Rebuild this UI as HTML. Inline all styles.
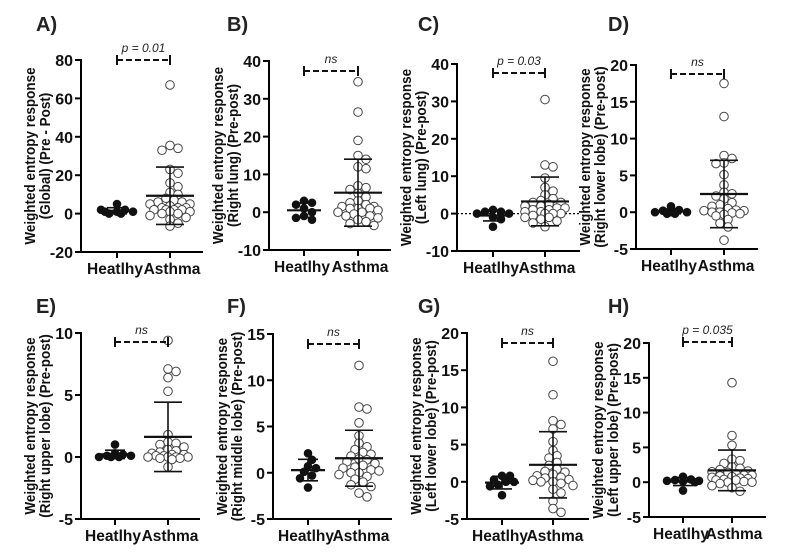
<!DOCTYPE html>
<html><head><meta charset="utf-8"><style>
html,body{margin:0;padding:0;background:#fff;}
svg{display:block;font-family:"Liberation Sans",Arial,sans-serif;}
</style></head><body>
<svg id="fig" width="808" height="558" viewBox="0 0 808 558"></svg>
<script>
const categories = ["Heatlhy","Asthma"];
const panelLetters = ["A)","B)","C)","D)","E)","F)","G)","H)"];
const yTitles1 = ["Weighted entropy response","Weighted entropy response","Weighted entropy response","Weighted entropy response","Weighted entropy response","Weighted entropy response","Weighted entropy response","Weighted entropy response"];
const yTitles2 = ["(Global)  (Pre - Post)","(Right lung)  (Pre-post)","(Left lung)  (Pre-post)","(Right lower lobe) (Pre-post)","(Right upper lobe) (Pre-post)","(Right middle lobe) (Pre-post)","(Left lower lobe) (Pre-post)","(Left upper lobe) (Pre-post)"];
const sigLabels = ["p = 0.01","ns","p = 0.03","ns","ns","ns","ns","p = 0.035"];
const yMin = [-20,-10,-10,-5,-5,-5,-5,-5];
const yMax = [80,40,40,20,10,15,20,20];
const yStep = [20,10,10,5,5,5,5,5];
const healthyA=[5,1,2,0,1,2,0,1];
const asthmaA=[67,35.5,34,33,23,21,16,14,11,10,8,7,6,6,5,5,4,3,3,3,2,2,2,2,1,1,0,0,-1,-2,-3,-5,-6.5];
const healthyB=[3,2.5,2,1,0,-1,-1.5,-2];
const asthmaB=[34.5,26.5,19,15,14,12,11.5,7,6.5,6,5,4,3,2.5,2,1.5,1.5,1,1,1,0.5,0,0,-0.5,-1,-1,-1.5,-2,-2.5,-3,-3.5];
const healthyC=[1,0.5,0.5,0,0,-1,-1.5,-3.5];
const asthmaC=[30.5,13,12.5,9.5,7,6,5,4,3.5,3,3,2.5,2,2,1.5,1.5,1,1,0.5,0.5,0,0,0,-0.5,-1,-1,-1.5,-2,-2.5,-3.5];
const healthyD=[0.8,0.3,0.2,0,0,0,-0.2,-0.2];
const asthmaD=[17.5,13,7.7,7.3,6.7,6.6,5.1,3.7,2.7,2.5,2.2,1.8,1.3,1.0,0.8,0.5,0.3,0.2,0.2,0,0,-0.1,-0.2,-0.3,-0.5,-1,-1.5,-2,-3.8];
const healthyE=[1,0.3,0.2,0.1,0.1,0,0,0];
const asthmaE=[9.4,7.1,6.9,6.4,5.3,1.8,1.2,1.1,1,0.8,0.6,0.5,0.4,0.3,0.2,0.2,0.1,0.1,0,0,0,0,-0.1,-0.1,-0.2,-0.8];
const healthyF=[2.1,1.4,0.7,0.5,0.1,-0.3,-0.6,-1.6];
const asthmaF=[11.6,7.1,6.9,5.4,4.0,3.2,2.8,2.5,2.2,2.0,1.8,1.5,1.4,1.2,1.0,0.8,0.6,0.5,0.3,0.2,0,0,-0.2,-0.4,-0.7,-1.0,-1.3,-1.5,-2.2,-2.6];
const healthyG=[0.8,0.8,0.3,0,0,-0.4,-0.6,-1.8];
const asthmaG=[16.2,11.7,8.2,7.7,7.1,5.4,4.2,3.5,3.2,2.6,2.2,1.7,1.4,1.3,1.0,0.8,0.6,0.5,0.3,0.2,0,0,-0.2,-0.5,-1.0,-1.5,-2.6,-3.6,-4.1];
const healthyH=[0.8,0.4,0.3,0.2,0.2,0.1,0,-1.2];
const asthmaH=[14.3,6.7,5.3,3.3,3.1,2.7,2.2,2.0,1.8,1.6,1.5,1.4,1.2,1.0,1.0,0.9,0.8,0.7,0.6,0.5,0.4,0.3,0.3,0.1,0,0,-0.2,-0.5,-0.8,-1.3];
const healthySeries=[healthyA,healthyB,healthyC,healthyD,healthyE,healthyF,healthyG,healthyH];
const asthmaSeries=[asthmaA,asthmaB,asthmaC,asthmaD,asthmaE,asthmaF,asthmaG,asthmaH];

const layout=[
 {ax:81,top:60,bot:252,h1:117,h2:170,end:203,lx:36,ly:31,br:60},
 {ax:269,top:61,bot:250,h1:304,h2:358,end:391,lx:227,ly:31,br:71},
 {ax:457,top:64,bot:251,h1:493,h2:545,end:580,lx:418,ly:31,br:73},
 {ax:636,top:65,bot:249,h1:671,h2:724,end:758,lx:608,ly:31,br:74},
 {ax:81,top:333,bot:519,h1:115,h2:168,end:200,lx:36,ly:313,br:342},
 {ax:273,top:334,bot:519,h1:308,h2:359,end:392,lx:227,ly:313,br:344},
 {ax:467,top:333,bot:519,h1:502,h2:553,end:589,lx:418,ly:313,br:343},
 {ax:649,top:343,bot:517,h1:683,h2:732,end:766,lx:608,ly:313,br:342}
];
const NS="http://www.w3.org/2000/svg";
const svg=document.getElementById('fig');
function mk(tag,attrs,parent){const e=document.createElementNS(NS,tag);for(const k in attrs)e.setAttribute(k,attrs[k]);(parent||svg).appendChild(e);return e;}
function stats(a){const m=a.reduce((s,v)=>s+v,0)/a.length;const sd=Math.sqrt(a.reduce((s,v)=>s+(v-m)*(v-m),0)/(a.length-1));return [m,sd];}
function jitter(vals,scale,maxOff){
  const placed=[];const out=[];
  const cands=[0];for(let i=1;i*4<=maxOff;i++){cands.push(i*4,-i*4);}
  vals.forEach(v=>{const y=scale(v);let best=0,bestD=-1;
    for(const c of cands){const d=placed.length?Math.min(...placed.map(p=>Math.hypot(p[0]-c,p[1]-y))):99;
      if(d>=6.5){best=c;bestD=d;break;} if(d>bestD){bestD=d;best=c;}}
    placed.push([best,y]);out.push(best);});
  return out;
}
layout.forEach((L,pi)=>{
  const g=mk('g',{});
  
  
  const y=v=>L.bot-(v-yMin[pi])/(yMax[pi]-yMin[pi])*(L.bot-L.top);
  const lt=mk('text',{x:L.lx,y:L.ly,'font-size':20,'font-weight':'bold',fill:'#222'},g);lt.textContent=panelLetters[pi];
  
  const ya=mk('line',{x1:L.ax,y1:L.top-1,x2:L.ax,y2:L.bot,stroke:'#000','stroke-width':2},g);
  
  const xa=mk('line',{x1:L.ax-1,y1:L.bot,x2:L.end,y2:L.bot,stroke:'#000','stroke-width':2},g);
  
  for(let v=yMin[pi];v<=yMax[pi]+1e-9;v+=yStep[pi]){
    mk('line',{x1:L.ax-6,y1:y(v),x2:L.ax,y2:y(v),stroke:'#000','stroke-width':2},g);
    const t=mk('text',{x:L.ax-8,y:y(v)+6,'font-size':16,'font-weight':'bold','text-anchor':'end',fill:'#111'},g);t.textContent=v;
    
  }
  [L.h1,L.h2].forEach((cx,ci)=>{
    mk('line',{x1:cx,y1:L.bot,x2:cx,y2:L.bot+6,stroke:'#000','stroke-width':2},g);
    const t=mk('text',{x:cx+(ci===0?-2:2),y:L.bot+22,'font-size':15.5,'font-weight':'bold','text-anchor':'middle',fill:'#111'},g);t.textContent=categories[ci];
    
  });
  const cy=(L.top+L.bot)/2;
  const t1=mk('text',{x:0,y:0,'font-size':15,'font-weight':'bold','text-anchor':'middle',fill:'#111',transform:`translate(${L.ax-46},${cy}) rotate(-90) scale(0.9,1)`},g);t1.textContent=yTitles1[pi];
  
  const t2=mk('text',{x:0,y:0,'font-size':15,'font-weight':'bold','text-anchor':'middle',fill:'#111',transform:`translate(${L.ax-31},${cy}) rotate(-90) scale(0.9,1)`},g);t2.textContent=yTitles2[pi];
  
  if(pi===2){const zl=mk('line',{x1:L.ax,y1:y(0),x2:L.end,y2:y(0),stroke:'#000','stroke-width':1.2,'stroke-dasharray':'2,2'},g);
    }
  [[healthySeries[pi],L.h1,true],[asthmaSeries[pi],L.h2,false]].forEach(([vals,cx,filled],si)=>{
    const offs=jitter(vals,y,filled?16:20);
    vals.forEach((v,i)=>{
      const c=mk('circle',{cx:cx+offs[i],cy:y(v),r:filled?3.8:4.3,fill:filled?'#111':'#fff',stroke:filled?'#111':'#444','stroke-width':1},g);
      
      
    });
    const [m,sd]=stats(vals);
    const w=si===0?17:24;
    const ml=mk('line',{x1:cx-w,y1:y(m),x2:cx+w,y2:y(m),stroke:'#111','stroke-width':2.2},g);
    
    const el=mk('line',{x1:cx,y1:y(m-sd),x2:cx,y2:y(m+sd),stroke:'#111','stroke-width':1.6},g);
    
    [m-sd,m+sd].forEach(v=>mk('line',{x1:cx-(si===0?10:14),y1:y(v),x2:cx+(si===0?10:14),y2:y(v),stroke:'#111','stroke-width':1.6},g));
  });
  const br=mk('line',{x1:L.h1,y1:L.br,x2:L.h2,y2:L.br,stroke:'#111','stroke-width':2,'stroke-dasharray':'6,3'},g);
  
  mk('line',{x1:L.h1,y1:L.br-5,x2:L.h1,y2:L.br+5,stroke:'#111','stroke-width':2},g);
  mk('line',{x1:L.h2,y1:L.br-5,x2:L.h2,y2:L.br+5,stroke:'#111','stroke-width':2},g);
  const st=mk('text',{x:(L.h1+L.h2)/2,y:L.br-8,'font-size':12,'font-style':'italic','text-anchor':'middle',fill:'#222'},g);st.textContent=sigLabels[pi];
  
});
</script>
</body></html>
